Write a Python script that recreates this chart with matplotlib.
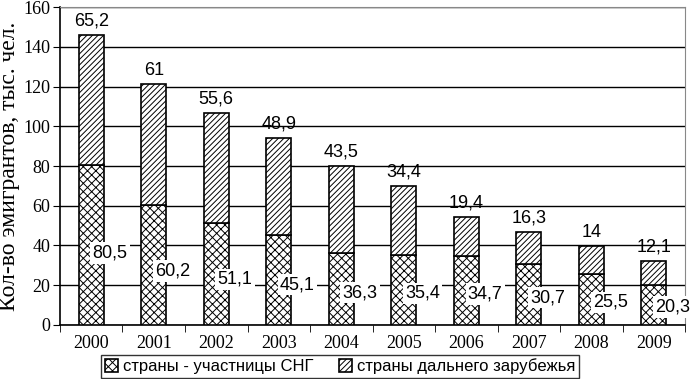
import numpy as np
import matplotlib.pyplot as plt

years = ['2000', '2001', '2002', '2003', '2004', '2005', '2006', '2007', '2008', '2009']
cis = [80.5, 60.2, 51.1, 45.1, 36.3, 35.4, 34.7, 30.7, 25.5, 20.3]
far = [65.2, 61, 55.6, 48.9, 43.5, 34.4, 19.4, 16.3, 14, 12.1]
yticks = [0, 20, 40, 60, 80, 100, 120, 140, 160]

SERIF = 'Liberation Serif'
SANS = 'Liberation Sans'


def fmt(v):
    # comma as decimal separator
    s = ('%g' % v)
    return s.replace('.', ',')


def main():
    plt.rcParams['hatch.linewidth'] = 0.7
    plt.rcParams['hatch.color'] = 'black'

    fig = plt.figure(figsize=(6.97, 3.79), dpi=100)
    ax = fig.add_axes([0.086, 0.1425, 0.897, 0.839])

    x = np.arange(len(years))
    w = 0.4
    ax.bar(x, cis, w, color='white', edgecolor='black', hatch='xxxx',
           linewidth=1.2, label='страны - участницы СНГ', zorder=3)
    ax.bar(x, far, w, bottom=cis, color='white', edgecolor='black', hatch='//////',
           linewidth=1.2, label='страны дальнего зарубежья', zorder=3)

    # labels
    for i in range(len(years)):
        ax.text(x[i] + 0.3, cis[i] * 0.45, fmt(cis[i]), ha='center', va='center',
                fontsize=13, family=SANS, zorder=5,
                bbox=dict(facecolor='white', edgecolor='none', pad=1.5))
        ax.annotate(fmt(far[i]), (x[i], cis[i] + far[i]), xytext=(0, 4),
                    textcoords='offset points', ha='center', va='bottom',
                    fontsize=13, family=SANS)

    ax.set_xlim(-0.5, len(years) - 0.5)
    ax.set_ylim(0, 160)
    ax.set_yticks(yticks)
    ax.set_yticklabels([str(t) for t in yticks], family=SERIF, fontsize=13)
    ax.set_xticks(x)
    ax.set_xticklabels(years, family=SERIF, fontsize=13)
    ax.set_xticks(np.arange(-0.5, len(years)), minor=True)
    ax.tick_params(axis='x', which='major', length=0, pad=7)
    ax.tick_params(axis='x', which='minor', length=5, direction='out')
    ax.tick_params(axis='y', length=5, direction='out', pad=2)
    ax.yaxis.grid(True, color='black', linewidth=1)
    ax.set_axisbelow(True)

    ax.spines['top'].set_color('#888888')
    ax.spines['right'].set_color('#888888')
    ax.spines['left'].set_linewidth(1.2)
    ax.spines['bottom'].set_linewidth(1.2)

    ax.set_ylabel('Кол-во эмигрантов, тыс. чел.', family=SERIF, fontsize=17, labelpad=2)

    leg = ax.legend(loc='upper center', bbox_to_anchor=(0.448, -0.095), ncol=2,
                    prop={'family': SANS, 'size': 12}, frameon=True, fancybox=False,
                    edgecolor='black', handlelength=0.8, handleheight=0.8,
                    handletextpad=0.3, columnspacing=1.5, borderpad=0.2,
                    borderaxespad=0)
    leg.get_frame().set_linewidth(1)

    fig.savefig('out.png', dpi=100)


if __name__ == '__main__':
    main()
